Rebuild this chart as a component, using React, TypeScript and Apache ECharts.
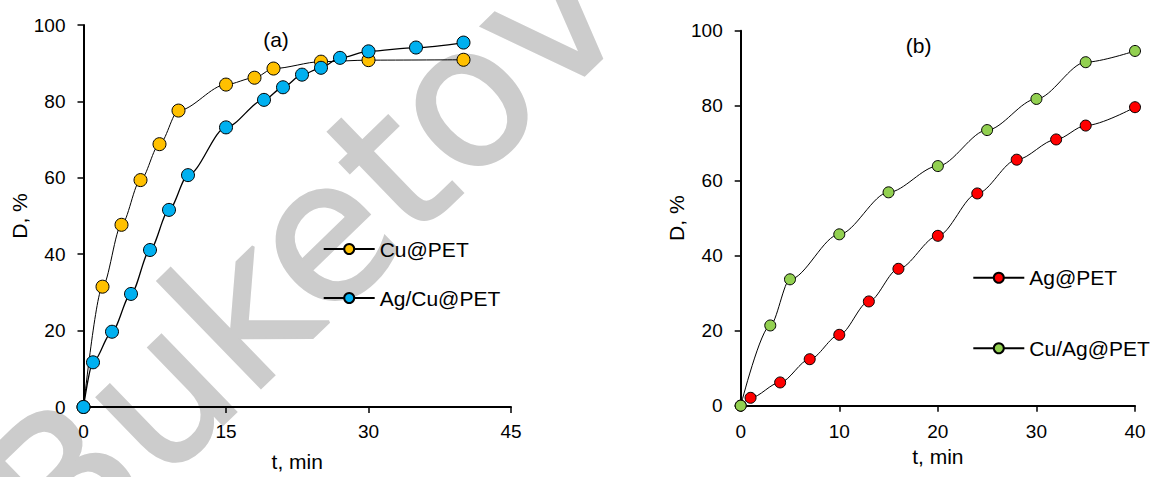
import React, { useEffect, useRef } from "react";
import * as echarts from "echarts";

// Panel (a)
const cuPetT = [0, 2, 4, 6, 8, 10, 15, 18, 20, 25, 30, 40];
const cuPetD = [0, 31.5, 47.7, 59.4, 68.8, 77.6, 84.4, 86.2, 88.6, 90.4, 90.8, 90.9];
const agCuPetT = [0, 1, 3, 5, 7, 9, 11, 15, 19, 21, 23, 25, 27, 30, 35, 40];
const agCuPetD = [0, 11.7, 19.7, 29.6, 41.1, 51.6, 60.7, 73.2, 80.4, 83.7, 87.0, 88.8, 91.4, 93.1, 94.1, 95.4];

// Panel (b)
const agPetT = [0, 1, 4, 7, 10, 13, 16, 20, 24, 28, 32, 35, 40];
const agPetD = [0, 2.1, 6.2, 12.4, 18.9, 27.8, 36.5, 45.3, 56.6, 65.6, 71.0, 74.7, 79.6];
const cuAgPetT = [0, 3, 5, 10, 15, 20, 25, 30, 35, 40];
const cuAgPetD = [0, 21.4, 33.7, 45.7, 56.9, 63.9, 73.5, 81.8, 91.6, 94.6];

const seriesNames = ["Cu@PET", "Ag/Cu@PET", "Ag@PET", "Cu/Ag@PET"];
const seriesColors = ["#FFC000", "#00B0F0", "#FF0000", "#92D050"];
const panelLabels = ["(a)", "(b)"];
const xName = "t, min";
const yName = "D, %";
const watermark = "Buketov";

const FONT = "'Liberation Sans', Arial, sans-serif";
const WM_FONT = "'DejaVu Sans', sans-serif";

export default function App() {
  const ref = useRef<HTMLDivElement>(null);
  useEffect(() => {
    const chart = echarts.init(ref.current!, null, { renderer: "svg" });

    const axisBase = (margin: number) => ({
      type: "value" as const,
      axisLine: { show: true, onZero: false, lineStyle: { color: "#000", width: 2 } },
      axisTick: { show: true, inside: false, length: 6, lineStyle: { color: "#000", width: 1.5 } },
      axisLabel: { color: "#000", fontSize: 19, fontFamily: FONT, margin },
      splitLine: { show: false },
      nameLocation: "middle" as const,
      nameTextStyle: { color: "#000", fontSize: 21, fontFamily: FONT },
    });

    const mk = (
      name: string,
      ts: number[],
      ds: number[],
      color: string,
      idx: number,
      size: number,
      lw: number
    ) => ({
      name,
      type: "line",
      xAxisIndex: idx,
      yAxisIndex: idx,
      data: ts.map((t, i) => [t, ds[i]]),
      symbol: "circle",
      symbolSize: size,
      smooth: 0.3,
      smoothMonotone: "x",
      itemStyle: { color, borderColor: "#000", borderWidth: 1 },
      lineStyle: { color: "#000", width: lw },
      emphasis: { disabled: true },
      z: 3,
    });

    const legendText = { color: "#000", fontSize: 21, fontFamily: FONT, lineHeight: 21 };

    chart.setOption({
      animation: false,
      grid: [
        { left: 83.5, top: 25, width: 427.5, height: 386 },
        { left: 740.7, top: 30.7, width: 394.3, height: 375 },
      ],
      xAxis: [
        { ...axisBase(15), gridIndex: 0, min: 0, max: 45, interval: 15, name: xName, nameGap: 44 },
        { ...axisBase(16), gridIndex: 1, min: 0, max: 40, interval: 10, name: xName, nameGap: 40 },
      ],
      yAxis: [
        { ...axisBase(18), gridIndex: 0, min: 0, max: 100, interval: 20, name: yName, nameGap: 53 },
        { ...axisBase(18), gridIndex: 1, min: 0, max: 100, interval: 20, name: yName, nameGap: 46 },
      ],
      legend: [
        {
          data: [seriesNames[0], seriesNames[1]],
          orient: "vertical",
          left: 322.7,
          top: 238.5,
          padding: 0,
          itemWidth: 51,
          itemHeight: 12.5,
          itemGap: 28,
          selectedMode: false,
          textStyle: legendText,
        },
        {
          data: [seriesNames[2], seriesNames[3]],
          orient: "vertical",
          left: 972.3,
          top: 267.2,
          padding: 0,
          itemWidth: 51,
          itemHeight: 12.5,
          itemGap: 49.6,
          selectedMode: false,
          textStyle: legendText,
        },
      ],
      graphic: [
        {
          type: "text",
          x: 302,
          y: 254,
          rotation: (44 * Math.PI) / 180,
          z: -10,
          silent: true,
          style: {
            text: watermark,
            font: `195px ${WM_FONT}`,
            fill: "#cccccc",
            stroke: "#cccccc",
            lineWidth: 3,
            align: "center",
            verticalAlign: "middle",
            textAlign: "center",
            textVerticalAlign: "middle",
          },
        },
        {
          type: "text",
          x: 276,
          y: 39,
          style: {
            text: panelLabels[0],
            font: `21px ${FONT}`,
            fill: "#000",
            align: "center",
            verticalAlign: "middle",
            textAlign: "center",
            textVerticalAlign: "middle",
          },
        },
        {
          type: "text",
          x: 918.7,
          y: 45,
          style: {
            text: panelLabels[1],
            font: `21px ${FONT}`,
            fill: "#000",
            align: "center",
            verticalAlign: "middle",
            textAlign: "center",
            textVerticalAlign: "middle",
          },
        },
      ],
      series: [
        mk(seriesNames[0], cuPetT, cuPetD, seriesColors[0], 0, 13, 1),
        mk(seriesNames[1], agCuPetT, agCuPetD, seriesColors[1], 0, 13, 1.3),
        mk(seriesNames[2], agPetT, agPetD, seriesColors[2], 1, 11, 1),
        mk(seriesNames[3], cuAgPetT, cuAgPetD, seriesColors[3], 1, 11, 1),
      ],
    });
    return () => chart.dispose();
  }, []);
  return (
    <div
      ref={ref}
      style={{ position: "fixed", left: 0, top: 0, width: 1152, height: 477, background: "#fff" }}
    />
  );
}
